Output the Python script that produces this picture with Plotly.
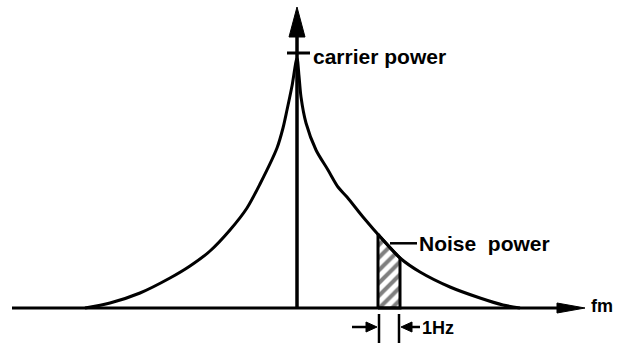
import numpy as np
import plotly.graph_objects as go

# drawing units: 1 unit = 1 px, h = height above the frequency axis
carrier_f = 297
carrier_h = 250

# phase-noise skirt
left_f = [85, 110, 140, 170, 190, 210, 230, 247, 260, 277, 283, 287, 292, 297]
left_h = [0, 5, 15, 30, 42, 57, 78, 100, 124, 160, 180, 198, 222, 250]
right_f = [297, 299, 301, 306, 316, 328, 338, 347, 363, 383, 400, 420, 450, 480, 503, 520]
right_h = [250, 232, 211, 185, 158, 138, 121, 111, 91, 68, 50, 36, 21, 10, 3, 0]

# 1 Hz measurement window
band_f = [378, 400]

axis_start, axis_end = 12, 585
axis_top = 301

INK = "#000000"
FAMILY = "Liberation Sans, Arial, sans-serif"


def head(tip_x, tip_y, dx, dy, length, half):
    """Filled arrow head polygon, tip at (tip_x, tip_y), pointing along (dx, dy)."""
    bx, by = tip_x - dx * length, tip_y - dy * length
    px, py = -dy * half, dx * half
    return go.Scatter(x=[tip_x, bx + px, bx - px, tip_x], y=[tip_y, by + py, by - py, tip_y],
                      mode="lines", fill="toself", fillcolor=INK, line=dict(color=INK, width=1),
                      hoverinfo="skip", showlegend=False)


def seg(x, y, w=3):
    return go.Scatter(x=x, y=y, mode="lines", line=dict(color=INK, width=w),
                      hoverinfo="skip", showlegend=False)


fig = go.Figure()

# noise band (hatched), top follows the skirt
bx = np.linspace(band_f[0], band_f[1], 12)
bh = np.interp(bx, right_f, right_h)
fig.add_trace(go.Scatter(
    x=[band_f[0]] + list(bx) + [band_f[1], band_f[0]],
    y=[0] + list(bh) + [0, 0],
    mode="lines", fill="toself",
    fillcolor="white",
    fillpattern=dict(shape="/", fgcolor=INK, bgcolor="white", size=9, solidity=0.45),
    line=dict(color=INK, width=3), hoverinfo="skip", showlegend=False))

# skirt
fig.add_trace(go.Scatter(x=left_f + right_f[1:], y=left_h + right_h[1:], mode="lines",
                         line=dict(color=INK, width=3, shape="spline", smoothing=0.8),
                         hoverinfo="skip", showlegend=False))

# frequency axis and carrier line
fig.add_trace(seg([axis_start, axis_end - 20], [0, 0]))
fig.add_trace(head(axis_end, 0, 1, 0, 28, 5))
fig.add_trace(seg([carrier_f, carrier_f], [0, axis_top - 20], 3.5))
fig.add_trace(head(carrier_f, axis_top, 0, 1, 30, 8))

# carrier marker
fig.add_trace(seg([carrier_f - 10, carrier_f + 13], [carrier_h + 5, carrier_h + 5], 3))

# noise leader
lead_h = float(np.interp(band_f[0] + 10, right_f, right_h)) + 2
fig.add_trace(seg([band_f[0] + 12, band_f[0] + 39], [lead_h, lead_h], 2.5))

# 1 Hz dimension marks
dim_h = -19
for f in band_f:
    fig.add_trace(seg([f + (1 if f == band_f[0] else -1)] * 2, [-6, -36], 2.5))
fig.add_trace(seg([band_f[0] - 26, band_f[0] - 10], [dim_h, dim_h], 2.5))
fig.add_trace(head(band_f[0] - 1, dim_h, 1, 0, 11, 5))
fig.add_trace(seg([band_f[1] + 10, band_f[1] + 20], [dim_h, dim_h], 2.5))
fig.add_trace(head(band_f[1] + 1, dim_h, -1, 0, 11, 5))

labels = [
    ("carrier power", carrier_f + 14, carrier_h + 2, 21),
    ("Noise  power", band_f[0] + 39, lead_h, 21),
    ("1Hz", band_f[1] + 20, dim_h - 1, 18),
    ("fm", axis_end + 4, 2, 18),
]
for text, x, y, size in labels:
    fig.add_annotation(x=x, y=y, text=text, showarrow=False, xanchor="left",
                       yanchor="middle",
                       font=dict(family=FAMILY, size=size, color=INK, weight="bold"))

fig.update_layout(
    width=620, height=343,
    margin=dict(l=0, r=0, t=0, b=0),
    paper_bgcolor="white", plot_bgcolor="white",
    xaxis=dict(range=[0, 620], visible=False, fixedrange=True),
    yaxis=dict(range=[-35, 308], visible=False, fixedrange=True),
)

fig.write_html("out.html", config={"displayModeBar": False},
               post_script="document.body.style.margin = '0';")
